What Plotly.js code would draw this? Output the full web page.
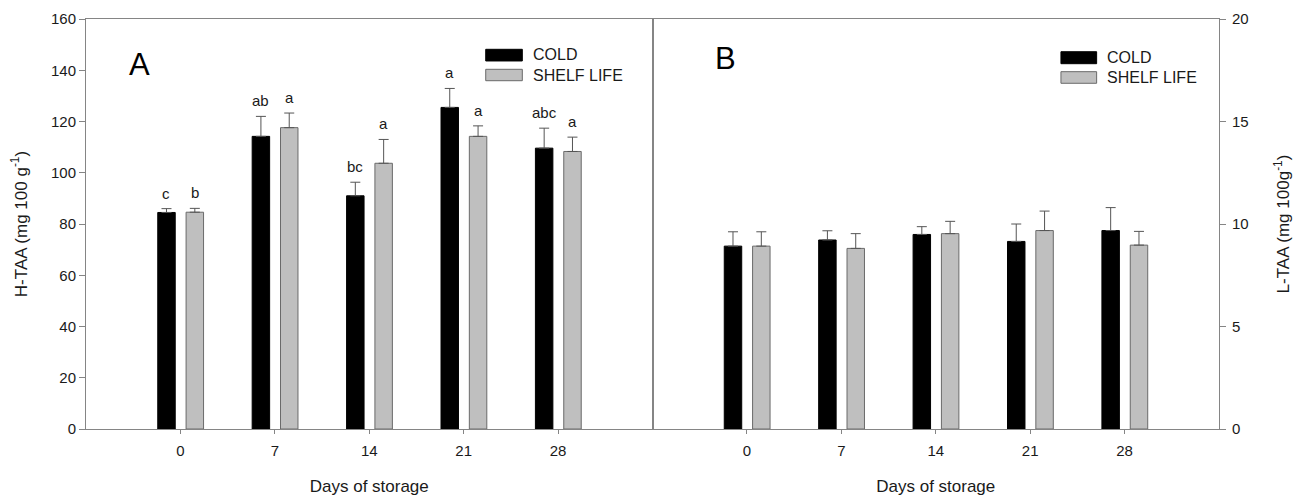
<!DOCTYPE html>
<html>
<head>
<meta charset="utf-8">
<script src="https://cdn.plot.ly/plotly-3.0.1.min.js"></script>
<style>html,body{margin:0;padding:0;background:#fff;}#chart{width:1299px;height:496px;}</style>
</head>
<body>
<div id="chart"></div>
<script>
// ---- data ----
const days = ['0', '7', '14', '21', '28'];

const htaaCold = [84.5, 114.2, 91.0, 125.5, 109.6];
const htaaColdErr = [1.5, 7.8, 5.3, 7.4, 7.8];
const htaaShelf = [84.6, 117.6, 103.7, 114.2, 108.3];
const htaaShelfErr = [1.5, 5.7, 9.3, 4.1, 5.6];
const htaaColdLetters = ['c', 'ab', 'bc', 'a', 'abc'];
const htaaShelfLetters = ['b', 'a', 'a', 'a', 'a'];

const ltaaCold = [8.92, 9.22, 9.49, 9.15, 9.68];
const ltaaColdErr = [0.70, 0.45, 0.38, 0.85, 1.12];
const ltaaShelf = [8.92, 8.81, 9.53, 9.68, 8.97];
const ltaaShelfErr = [0.70, 0.72, 0.60, 0.95, 0.67];

const seriesNames = ['COLD', 'SHELF LIFE'];

// ---- styling ----
const FONT = 'Liberation Sans, Arial, sans-serif';
const TXT = '#1a1a1a';
const LINE = '#858585';
const GREY = '#bfbfbf';
const OUTLINE = '#6a6a6a';
const BW = 0.185, OFF_C = -0.24, OFF_S = 0.06;

function bar(y, err, color, xa, ya, off, name) {
  return {
    type: 'bar', x: days, y: y, name: name, xaxis: xa, yaxis: ya,
    width: BW, offset: off, showlegend: false,
    marker: {color: color, line: {color: color === 'black' ? 'black' : OUTLINE, width: 1}},
    error_y: {type: 'data', symmetric: false, array: err, arrayminus: err.map(() => 0),
              color: '#555555', thickness: 1, width: 5},
    hoverinfo: 'x+y'
  };
}

const data = [
  bar(htaaCold, htaaColdErr, 'black', 'x', 'y', OFF_C, seriesNames[0]),
  bar(htaaShelf, htaaShelfErr, GREY, 'x', 'y', OFF_S, seriesNames[1]),
  bar(ltaaCold, ltaaColdErr, 'black', 'x2', 'y2', OFF_C, seriesNames[0]),
  bar(ltaaShelf, ltaaShelfErr, GREY, 'x2', 'y2', OFF_S, seriesNames[1])
];

const annotations = [];
days.forEach((d, i) => {
  annotations.push({x: i + OFF_C + BW / 2, y: htaaCold[i] + htaaColdErr[i], xref: 'x', yref: 'y',
    text: htaaColdLetters[i], showarrow: false, yanchor: 'bottom', yshift: 5,
    font: {family: FONT, size: 15, color: TXT}});
  annotations.push({x: i + OFF_S + BW / 2, y: htaaShelf[i] + htaaShelfErr[i], xref: 'x', yref: 'y',
    text: htaaShelfLetters[i], showarrow: false, yanchor: 'bottom', yshift: 5,
    font: {family: FONT, size: 15, color: TXT}});
});

// panel labels
annotations.push({xref: 'paper', yref: 'paper', x: 0.0359, y: 0.890, xanchor: 'left', yanchor: 'middle',
  text: 'A', showarrow: false, font: {family: FONT, size: 31, color: '#000'}});
annotations.push({xref: 'paper', yref: 'paper', x: 0.5531, y: 0.904, xanchor: 'left', yanchor: 'middle',
  text: 'B', showarrow: false, font: {family: FONT, size: 31, color: '#000'}});

// custom legends
const shapes = [];
function legend(x0, x1, yc0, yc1, ys0, ys1, tx, tyc, tys) {
  shapes.push({type: 'rect', xref: 'paper', yref: 'paper', x0: x0, x1: x1, y0: yc0, y1: yc1,
    fillcolor: 'black', line: {color: 'black', width: 1}});
  shapes.push({type: 'rect', xref: 'paper', yref: 'paper', x0: x0, x1: x1, y0: ys0, y1: ys1,
    fillcolor: GREY, line: {color: OUTLINE, width: 1}});
  annotations.push({xref: 'paper', yref: 'paper', x: tx, y: tyc, xanchor: 'left', yanchor: 'middle',
    text: seriesNames[0], showarrow: false, font: {family: FONT, size: 16, color: TXT}});
  annotations.push({xref: 'paper', yref: 'paper', x: tx, y: tys, xanchor: 'left', yanchor: 'middle',
    text: seriesNames[1], showarrow: false, font: {family: FONT, size: 16, color: TXT}});
}
legend(0.3528, 0.3851, 0.8976, 0.9261, 0.8495, 0.8773, 0.3924, 0.9122, 0.8634);
legend(0.8605, 0.8920, 0.8910, 0.9202, 0.8432, 0.8715, 0.8994, 0.9061, 0.8573);

const xAxisBase = {
  type: 'category', range: [-1, 5], showline: true, mirror: true, linecolor: LINE, linewidth: 1,
  ticks: 'outside', ticklen: 4, tickcolor: LINE, showgrid: false, zeroline: false,
  ticklabelstandoff: 4,
  tickfont: {family: FONT, size: 15, color: TXT},
  title: {text: 'Days of storage', font: {family: FONT, size: 17, color: TXT}, standoff: 24}
};

const layout = {
  width: 1299, height: 496,
  margin: {l: 86, r: 80, t: 19, b: 67, pad: 0},
  paper_bgcolor: '#fff', plot_bgcolor: '#fff',
  barmode: 'overlay',
  font: {family: FONT, color: TXT},
  xaxis: Object.assign({}, xAxisBase, {domain: [0, 0.5], anchor: 'y'}),
  xaxis2: Object.assign({}, xAxisBase, {domain: [0.5, 1], anchor: 'y2'}),
  yaxis: {
    domain: [0, 1], anchor: 'x', range: [0, 160], dtick: 20, showline: true, mirror: true,
    linecolor: LINE, linewidth: 1, ticks: 'outside', ticklen: 6, tickcolor: LINE,
    showgrid: false, zeroline: false, tickfont: {family: FONT, size: 15, color: TXT},
    title: {text: 'H-TAA (mg 100 g<sup>-1</sup>)', font: {family: FONT, size: 17, color: TXT}, standoff: 19}
  },
  yaxis2: {
    domain: [0, 1], anchor: 'x2', side: 'right', range: [0, 20], dtick: 5, showline: true, mirror: true,
    linecolor: LINE, linewidth: 1, ticks: 'outside', ticklen: 6, tickcolor: LINE,
    showgrid: false, zeroline: false, tickfont: {family: FONT, size: 15, color: TXT},
    ticklabelstandoff: 3,
    title: {text: 'L-TAA (mg 100g<sup>-1</sup>)', font: {family: FONT, size: 17, color: TXT}, standoff: 29}
  },
  shapes: shapes,
  annotations: annotations
};

Plotly.newPlot('chart', data, layout, {displayModeBar: false, staticPlot: true});
</script>
</body>
</html>
